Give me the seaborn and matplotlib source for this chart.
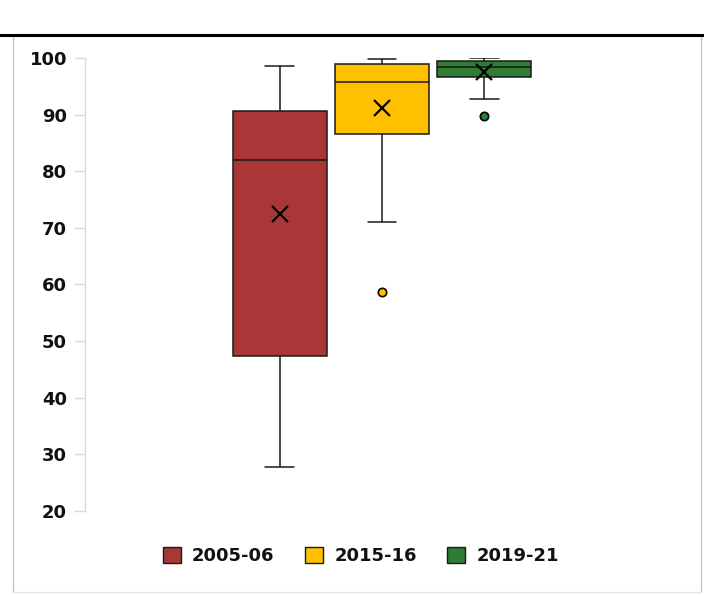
import numpy as np
import pandas as pd
import seaborn as sns
import matplotlib.pyplot as plt
from matplotlib.patches import Patch
from matplotlib.lines import Line2D

# Percentages per unit for each survey round
periods = ["2005-06", "2015-16", "2019-21"]
vals_2005 = [27.8, 35, 42, 46, 47.4, 62, 71.6, 78, 82.0, 86, 88, 90, 90.6, 94, 96, 97.5, 98.6]
vals_2015 = [58.7, 71.0, 84, 85, 86.6, 90, 93, 95.3, 95.8, 97, 98, 98.7, 99.0, 99.3, 99.5, 99.7, 99.8]
vals_2019 = [89.8, 92.8, 95.4, 95.8, 96.6, 97.0, 97.6, 98.0, 98.4, 98.8, 99.1, 99.3, 99.5, 99.7, 99.8, 99.9, 100.0]
colors = ["#A93737", "#FFC000", "#2E7D32"]
y_ticks = [20, 30, 40, 50, 60, 70, 80, 90, 100]

df = pd.DataFrame({
    "period": np.repeat(periods, [len(vals_2005), len(vals_2015), len(vals_2019)]),
    "value": vals_2005 + vals_2015 + vals_2019,
})
df["grp"] = ""

sns.set_theme(style="white")
plt.rcParams["font.family"] = ["DejaVu Sans"]

fig = plt.figure(figsize=(7.04, 5.95), dpi=100)
W, H = 704, 595
ax = fig.add_axes([85 / W, 1 - 511 / H, (679 - 85) / W, (511 - 58) / H])

sns.boxplot(
    data=df, x="grp", y="value", hue="period", hue_order=periods,
    palette=colors, saturation=1, width=0.8, gap=0.083,
    linecolor="#1a1a1a", linewidth=1.1, legend=False,
    showmeans=True,
    meanprops=dict(marker="x", markeredgecolor="black", markerfacecolor="black",
                   markersize=11, markeredgewidth=1.6),
    flierprops=dict(marker="o", markersize=6, markeredgecolor="black",
                    markeredgewidth=1.2),
    ax=ax,
)

# narrower whisker caps, coloured fliers
for cont, col in zip(ax.containers, colors):
    for cap in cont.caps:
        xd = cap.get_xdata()
        c = (xd[0] + xd[1]) / 2
        cap.set_xdata([c - 0.037, c + 0.037])
    for fl in cont.fliers:
        fl.set_markerfacecolor(col)

ax.set_xlim(-0.773, 0.773)
ax.set_ylim(20, 100)
ax.set_yticks(y_ticks)
ax.set_yticklabels([str(t) for t in y_ticks], fontsize=13, fontweight="bold", color="#111111")
ax.set_xticks([])
ax.set_xlabel("")
ax.set_ylabel("")
for s in ["top", "right", "bottom"]:
    ax.spines[s].set_visible(False)
ax.spines["left"].set_color("#d9d9d9")
ax.spines["left"].set_linewidth(1.0)
ax.tick_params(axis="y", direction="out", length=8, width=1.0, color="#d9d9d9", pad=5, left=True)

handles = [Patch(facecolor=c, edgecolor="#1a1a1a", linewidth=1.0, label=p) for c, p in zip(colors, periods)]
fig.legend(handles=handles, loc="center", bbox_to_anchor=(361 / W, 1 - 556 / H), ncol=3,
           frameon=False, prop=dict(size=13, weight="bold"), handlelength=1.0, handleheight=1.0,
           handletextpad=0.6, columnspacing=1.7, labelcolor="#111111")

# outer frame and heading rule
fig.add_artist(Line2D([13 / W, 13 / W], [1 - 592 / H, 1 - 35 / H], color="#c8c8c8", lw=1.0))
fig.add_artist(Line2D([701 / W, 701 / W], [1 - 592 / H, 1 - 35 / H], color="#c8c8c8", lw=1.0))
fig.add_artist(Line2D([13 / W, 701 / W], [1 - 592 / H, 1 - 592 / H], color="#e6e6e6", lw=1.0))
fig.add_artist(Line2D([0, 1], [1 - 35 / H, 1 - 35 / H], color="black", lw=2.2))

fig.savefig("out.png", dpi=100)
